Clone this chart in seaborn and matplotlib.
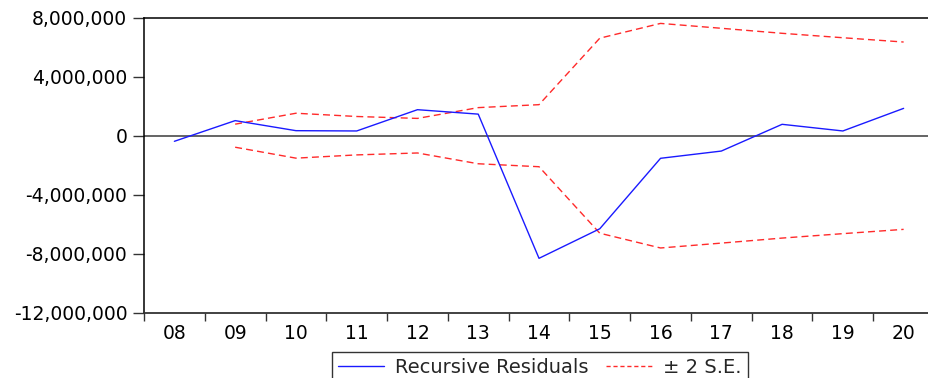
import numpy as np
import pandas as pd
import matplotlib
matplotlib.use("Agg")
import matplotlib.pyplot as plt
import seaborn as sns
from matplotlib.ticker import FuncFormatter, FixedLocator
from matplotlib.lines import Line2D

# Recursive residuals with +/- 2 standard error bands
years = ["08", "09", "10", "11", "12", "13", "14", "15", "16", "17", "18", "19", "20"]
residuals = [-0.38e6, 1.02e6, 0.34e6, 0.32e6, 1.76e6, 1.46e6, -8.3e6,
             -6.3e6, -1.53e6, -1.04e6, 0.77e6, 0.32e6, 1.85e6]
# The standard-error band starts one period after the first residual
se2 = [np.nan, 0.78e6, 1.52e6, 1.3e6, 1.17e6, 1.9e6, 2.1e6,
       6.6e6, 7.6e6, 7.27e6, 6.93e6, 6.63e6, 6.34e6]

df = pd.DataFrame({
    "pos": np.arange(len(years)),
    "resid": residuals,
    "upper": se2,
    "lower": [-v for v in se2],
})

sns.set_theme(style="white")
plt.rcParams["font.family"] = ["DejaVu Sans"]

fig = plt.figure(figsize=(9.29, 3.78), dpi=100)
ax = fig.add_axes([0.155, 0.172, 0.8504, 0.7817])

ax.axhline(0, color="#3a3a3a", lw=1.1, zorder=1)
sns.lineplot(data=df, x="pos", y="resid", ax=ax, color="#1a1aff", lw=1.0, zorder=3)
sns.lineplot(data=df, x="pos", y="upper", ax=ax, color="#ff2a2a", lw=1.0,
             linestyle=(0, (5, 3)), zorder=2)
sns.lineplot(data=df, x="pos", y="lower", ax=ax, color="#ff2a2a", lw=1.0,
             linestyle=(0, (5, 3)), zorder=2)

ax.set_xlim(-0.5, len(years) - 0.5)
ax.set_ylim(-12e6, 8e6)
ax.set_yticks(np.arange(-12e6, 8e6 + 1, 4e6))
ax.yaxis.set_major_formatter(FuncFormatter(lambda v, p: f"{v:,.0f}"))

ax.set_xticks(df["pos"])
ax.set_xticklabels(years)
ax.xaxis.set_minor_locator(FixedLocator(np.arange(-0.5, len(years), 1.0)))
ax.tick_params(axis="x", which="major", length=0, pad=8, labelsize=13.5, colors="black")
ax.tick_params(axis="x", which="minor", bottom=True, length=6, width=1, color="#333333")
ax.tick_params(axis="y", left=True, length=8, width=1, pad=4, labelsize=13.5,
               color="#333333", colors="black")
ax.set_xlabel("")
ax.set_ylabel("")

for side in ["top", "left", "right"]:
    ax.spines[side].set_color("black")
    ax.spines[side].set_linewidth(1.1)
ax.spines["bottom"].set_color("#333333")
ax.spines["bottom"].set_linewidth(1.3)

handles = [
    Line2D([], [], color="#1a1aff", lw=1.0),
    Line2D([], [], color="#ff2a2a", lw=1.0, linestyle=(0, (3, 2))),
]
leg = fig.legend(handles, ["Recursive Residuals", "\u00b1 2 S.E."],
                 loc="upper center", bbox_to_anchor=(0.581, 0.0688), ncol=2,
                 frameon=True, fancybox=False, fontsize=14, handlelength=2.4,
                 columnspacing=0.9, handletextpad=0.55, borderpad=0.3,
                 borderaxespad=0)
leg.get_frame().set_edgecolor("black")
leg.get_frame().set_linewidth(1.0)

fig.savefig("out.png", dpi=100)
